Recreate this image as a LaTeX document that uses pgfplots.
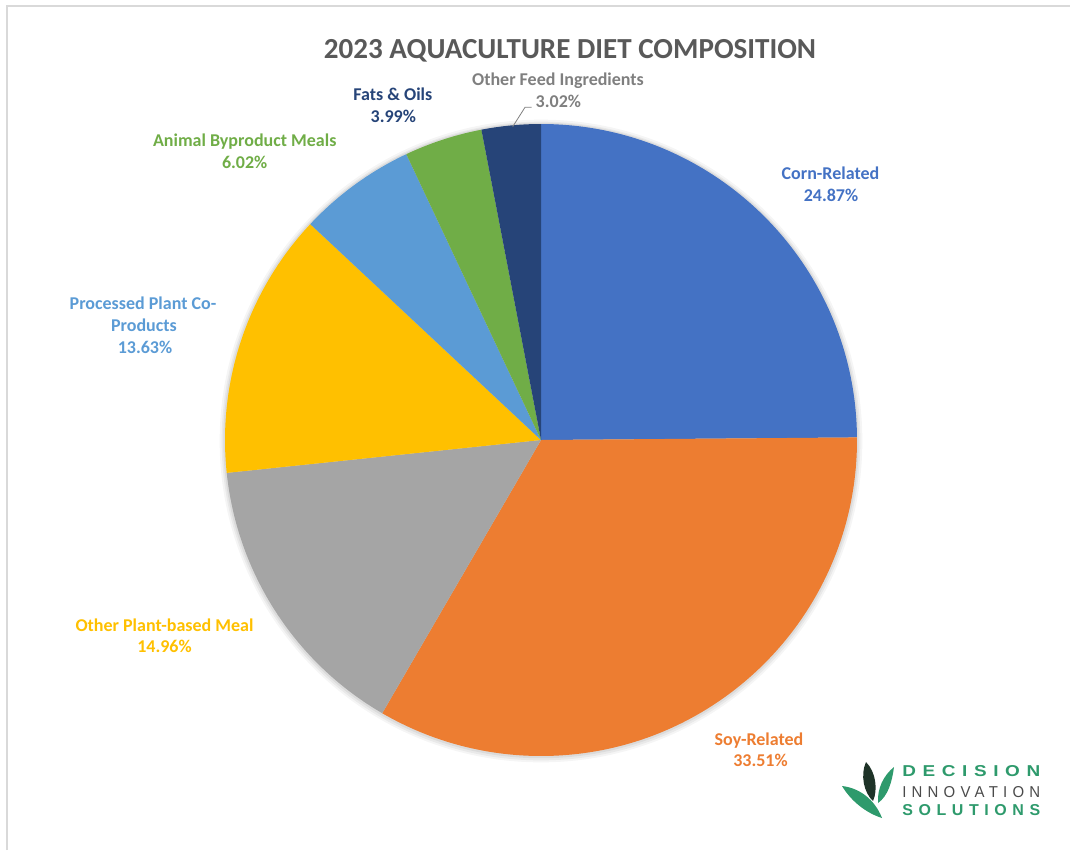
\documentclass[border=0pt]{standalone}
\usepackage{fontspec}
\setmainfont{Carlito}
\newfontfamily\logofont[LetterSpace=35]{Liberation Sans}
\usepackage{pgfplots}
\usepackage{pgfplotstable}
\pgfplotsset{compat=1.18}
\definecolor{pie0}{HTML}{4472C4}
\definecolor{pie1}{HTML}{ED7D31}
\definecolor{pie2}{HTML}{A5A5A5}
\definecolor{pie3}{HTML}{FFC000}
\definecolor{pie4}{HTML}{5B9BD5}
\definecolor{pie5}{HTML}{70AD47}
\definecolor{pie6}{HTML}{264478}
\definecolor{titlegray}{HTML}{595959}
\definecolor{lblgray}{HTML}{7F7F7F}
\definecolor{logogreen}{HTML}{2E9A6C}
\definecolor{logodark}{HTML}{1E3328}
\definecolor{logotext}{HTML}{4A4A4A}

\pgfplotstableread{
value
24.87
33.51
14.96
13.63
6.02
3.99
3.02
}\piedata

\begin{document}
\begin{tikzpicture}
\pgfplotstablegetrowsof{\piedata}
\pgfmathtruncatemacro\lastrow{\pgfplotsretval-1}
\xdef\cum{90}
\pgfplotsforeachungrouped \i in {0,...,\lastrow}{%
  \pgfplotstablegetelem{\i}{value}\of\piedata
  \pgfmathsetmacro\endang{\cum-3.6*\pgfplotsretval}
  \pgfmathsetmacro\sx{541+316*cos(\cum)}
  \pgfmathsetmacro\sy{440-316*sin(\cum)}
  \expandafter\xdef\csname pieSA\i\endcsname{\cum}
  \expandafter\xdef\csname pieEA\i\endcsname{\endang}
  \expandafter\xdef\csname pieSX\i\endcsname{\sx}
  \expandafter\xdef\csname pieSY\i\endcsname{\sy}
  \xdef\cum{\endang}
}
\begin{axis}[
  width=802.5pt, height=637.5pt, scale only axis,
  xmin=0, xmax=1070, ymin=0, ymax=850, y dir=reverse,
  enlargelimits=false, hide axis, clip=false,
]
% frame
\draw[color=black!15, line width=1.5pt] (axis cs:7,850) -- (axis cs:7,6) -- (axis cs:1070,6);
% soft shadow
\fill[black, opacity=0.04] (axis cs:541,441) circle[radius=241pt];
\fill[black, opacity=0.05] (axis cs:541,441) circle[radius=239.5pt];
\fill[black, opacity=0.06] (axis cs:541,440.5) circle[radius=238.3pt];
% slices
\pgfplotsinvokeforeach{0,...,6}{%
  \edef\tmp{\noexpand\fill[pie#1] (axis cs:541,440) -- (axis cs:\csname pieSX#1\endcsname,\csname pieSY#1\endcsname) arc[start angle=\csname pieSA#1\endcsname, end angle=\csname pieEA#1\endcsname, radius=237pt] -- cycle;}%
  \tmp
}
% title
\node[anchor=base, text=titlegray, font=\bfseries\fontsize{21.8}{24}\selectfont] at (axis cs:570,58.3) {2023 AQUACULTURE DIET COMPOSITION};
% labels
\tikzset{lbl/.style={anchor=base, font=\bfseries\fontsize{13.5}{16}\selectfont}}
\node[lbl, text=pie0] at (axis cs:830.5,179.5) {Corn-Related};
\node[lbl, text=pie0] at (axis cs:831,201.2) {24.87\%};
\node[lbl, text=pie1] at (axis cs:759,745) {Soy-Related};
\node[lbl, text=pie1] at (axis cs:760.5,766.5) {33.51\%};
\node[lbl, text=pie3] at (axis cs:164.5,631.5) {Other Plant-based Meal};
\node[lbl, text=pie3] at (axis cs:164.5,652.5) {14.96\%};
\node[lbl, text=pie4] at (axis cs:143,309) {Processed Plant Co-};
\node[lbl, text=pie4] at (axis cs:144,331) {Products};
\node[lbl, text=pie4] at (axis cs:145,353.3) {13.63\%};
\node[lbl, text=pie5] at (axis cs:244.7,146.7) {Animal Byproduct Meals};
\node[lbl, text=pie5] at (axis cs:244.7,168.3) {6.02\%};
\node[lbl, text=pie6] at (axis cs:392.8,100) {Fats \& Oils};
\node[lbl, text=pie6] at (axis cs:393.3,122.3) {3.99\%};
\node[lbl, text=lblgray] at (axis cs:558,85) {Other Feed Ingredients};
\node[lbl, text=lblgray, anchor=base west] at (axis cs:531,107.3) {3.02\%};
\draw[lblgray, line width=0.6pt] (axis cs:512.7,126.7) -- (axis cs:525,107.3) -- (axis cs:531.5,107.3);
% logo leaves
\fill[logogreen] (axis cs:842,786) .. controls (axis cs:860,788) and (axis cs:875,800) .. (axis cs:882,818)
   .. controls (axis cs:866,813) and (axis cs:851,801) .. cycle;
\fill[logodark] (axis cs:866,762) .. controls (axis cs:860,775) and (axis cs:864,793) .. (axis cs:873,801)
   .. controls (axis cs:878,790) and (axis cs:876,772) .. cycle;
\fill[logogreen] (axis cs:878,803) .. controls (axis cs:877,788) and (axis cs:884,775) .. (axis cs:894,767)
   .. controls (axis cs:892,782) and (axis cs:888,796) .. cycle;
\node[anchor=base west, inner sep=0pt, text=logogreen] at (axis cs:902,776) {\resizebox{103.5pt}{8.25pt}{\logofont\bfseries DECISION}};
\node[anchor=base west, inner sep=0pt, text=logotext] at (axis cs:902,797.7) {\resizebox{103.5pt}{8.25pt}{\logofont INNOVATION}};
\node[anchor=base west, inner sep=0pt, text=logogreen] at (axis cs:902,815) {\resizebox{103.5pt}{8.25pt}{\logofont\bfseries SOLUTIONS}};
\end{axis}
\pgfresetboundingbox
\path (current axis.south west) rectangle (current axis.north east);
\end{tikzpicture}
\end{document}
